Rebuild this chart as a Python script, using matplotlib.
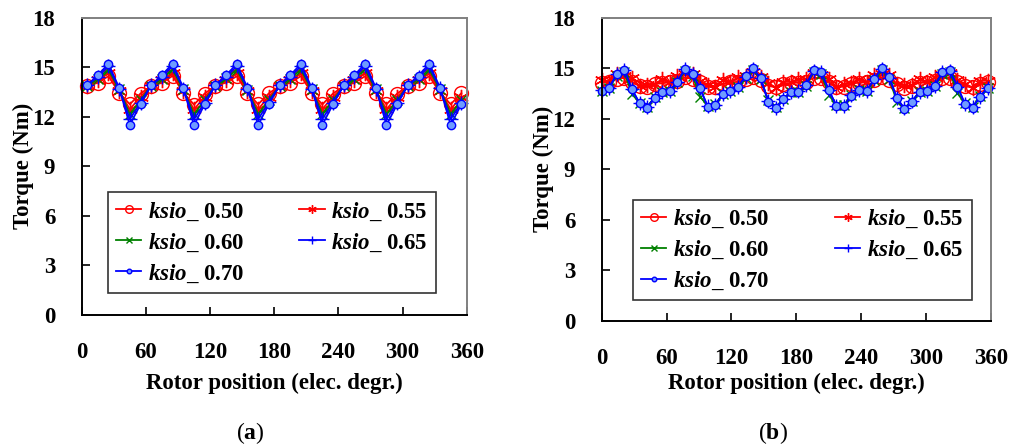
import numpy as np
import matplotlib
matplotlib.use("Agg")
import matplotlib.pyplot as plt

plt.rcParams['font.family'] = ['Liberation Serif', 'DejaVu Serif']
plt.rcParams['font.weight'] = 'bold'
plt.rcParams['mathtext.fontset'] = 'custom'
plt.rcParams['mathtext.it'] = 'Liberation Serif:italic:bold'
plt.rcParams['mathtext.bf'] = 'Liberation Serif:bold'
plt.rcParams['mathtext.rm'] = 'Liberation Serif:bold'

labels = ['0.50', '0.55', '0.60', '0.65', '0.70']

# panel (a): every 10 elec. degrees
x_a = np.arange(5, 360, 10)
a_050 = [13.85, 14.05, 14.45, 13.45, 12.75, 13.40,
         13.85, 14.05, 14.47, 13.45, 12.73, 13.40,
         13.86, 14.06, 14.45, 13.44, 12.75, 13.41,
         13.85, 14.05, 14.46, 13.45, 12.74, 13.40,
         13.84, 14.05, 14.45, 13.46, 12.75, 13.40,
         13.85, 14.06, 14.45, 13.45, 12.75, 13.42]
a_055 = [13.85, 14.20, 14.65, 13.55, 12.45, 13.20,
         13.86, 14.20, 14.66, 13.55, 12.44, 13.20,
         13.85, 14.21, 14.65, 13.54, 12.45, 13.21,
         13.85, 14.20, 14.65, 13.55, 12.46, 13.20,
         13.84, 14.20, 14.66, 13.55, 12.45, 13.20,
         13.85, 14.19, 14.65, 13.56, 12.45, 13.20]
a_060 = [13.85, 14.30, 14.85, 13.65, 12.15, 13.00,
         13.86, 14.30, 14.86, 13.65, 12.14, 13.00,
         13.85, 14.31, 14.85, 13.64, 12.15, 13.01,
         13.85, 14.30, 14.85, 13.65, 12.16, 13.00,
         13.84, 14.30, 14.86, 13.65, 12.15, 13.00,
         13.85, 14.29, 14.85, 13.66, 12.15, 13.00]
a_065 = [13.90, 14.40, 15.05, 13.70, 11.85, 12.85,
         13.90, 14.41, 15.06, 13.70, 11.84, 12.85,
         13.91, 14.40, 15.05, 13.69, 11.85, 12.86,
         13.90, 14.40, 15.05, 13.70, 11.86, 12.85,
         13.89, 14.40, 15.06, 13.70, 11.85, 12.85,
         13.90, 14.39, 15.05, 13.71, 11.85, 12.85]
a_070 = [13.90, 14.50, 15.20, 13.75, 11.50, 12.75,
         13.90, 14.51, 15.21, 13.75, 11.49, 12.75,
         13.91, 14.50, 15.20, 13.74, 11.50, 12.76,
         13.90, 14.50, 15.20, 13.75, 11.51, 12.75,
         13.89, 14.50, 15.21, 13.75, 11.50, 12.75,
         13.90, 14.49, 15.20, 13.76, 11.50, 12.75]

# panel (b): every 7 elec. degrees
x_b = np.arange(0, 358, 7)
b_050 = [14.12, 14.20, 14.36, 14.43, 14.18, 13.93, 13.86, 14.05, 14.10, 14.15,
         14.25, 14.44, 14.36, 14.19, 13.88, 13.90, 14.06, 14.15, 14.18, 14.33,
         14.45, 14.30, 13.95, 13.85, 14.03, 14.10, 14.14, 14.20, 14.42, 14.39,
         14.17, 13.89, 13.89, 14.08, 14.13, 14.15, 14.29, 14.45, 14.31, 14.04,
         13.84, 13.95, 14.14, 14.11, 14.23, 14.39, 14.42, 14.18, 13.91, 13.86,
         14.07, 14.16]
b_055 = [14.30, 14.18, 14.64, 14.54, 14.38, 13.94, 14.00, 14.05, 14.33, 14.19,
         14.54, 14.66, 14.64, 14.25, 14.02, 13.90, 14.27, 14.19, 14.44, 14.50,
         14.77, 14.46, 14.12, 13.83, 14.17, 14.18, 14.33, 14.32, 14.72, 14.59,
         14.37, 13.88, 14.03, 14.10, 14.37, 14.19, 14.59, 14.67, 14.57, 14.04,
         13.97, 13.97, 14.33, 14.19, 14.45, 14.59, 14.72, 14.29, 14.06, 13.84,
         14.23, 14.26]
b_060 = [13.65, 13.82, 14.55, 14.75, 13.45, 12.95, 12.71, 13.26, 13.60, 13.63,
         14.15, 14.85, 14.55, 13.30, 12.77, 12.86, 13.45, 13.63, 13.87, 14.42,
         14.88, 14.33, 13.10, 12.68, 13.17, 13.60, 13.60, 13.96, 14.76, 14.66,
         13.40, 12.80, 12.80, 13.38, 13.69, 13.63, 14.28, 14.88, 14.37, 13.00,
         12.64, 13.04, 13.60, 13.63, 13.91, 14.66, 14.76, 13.50, 12.90, 12.71,
         13.32, 13.82]
b_065 = [13.67, 13.84, 14.62, 14.88, 13.74, 12.92, 12.67, 13.25, 13.60, 13.64,
         14.19, 14.93, 14.62, 13.80, 12.73, 12.83, 13.45, 13.64, 13.90, 14.48,
         14.97, 14.39, 13.02, 12.64, 13.16, 13.60, 13.61, 14.00, 14.83, 14.74,
         13.70, 12.77, 12.77, 13.37, 13.70, 13.64, 14.33, 14.97, 14.43, 13.22,
         12.60, 13.02, 13.60, 13.64, 13.94, 14.74, 14.83, 13.90, 12.87, 12.67,
         13.31, 13.84]
b_070 = [13.66, 13.84, 14.64, 14.90, 13.74, 12.90, 12.64, 13.24, 13.60, 13.64,
         14.20, 14.96, 14.64, 13.80, 12.70, 12.80, 13.44, 13.64, 13.90, 14.50,
         15.00, 14.40, 13.00, 12.60, 13.14, 13.60, 13.60, 14.00, 14.86, 14.76,
         13.70, 12.74, 12.74, 13.36, 13.70, 13.64, 14.34, 15.00, 14.44, 13.20,
         12.56, 13.00, 13.60, 13.64, 13.94, 14.76, 14.86, 13.90, 12.84, 12.64,
         13.30, 13.84]

styles = [
    dict(color='#ff0000', marker='o', markersize=10, markerfacecolor='none', markeredgewidth=1.0),
    dict(color='#ff0000', marker=(6, 2, 0), markersize=11, markeredgewidth=1.0),
    dict(color='#008000', marker='x', markersize=7, markeredgewidth=1.0),
    dict(color='#0000ff', marker='+', markersize=10, markeredgewidth=1.0),
    dict(color='#0000ff', marker='o', markersize=6, markerfacecolor='#6f9cff', markeredgewidth=1.0),
]

# legend is filled row by row in the original (matplotlib fills by column)
legend_order = [0, 2, 4, 1, 3]


def style_axes(ax):
    ax.set_xlim(0, 360)
    ax.set_ylim(0, 18)
    ax.set_xticks(range(0, 361, 60))
    ax.set_yticks(range(0, 19, 3))
    ax.tick_params(axis='both', direction='in', length=6, width=1.2, labelsize=16.5)
    ax.tick_params(axis='x', pad=19.5)
    ax.tick_params(axis='y', pad=19)
    for s in ['left', 'bottom']:
        ax.spines[s].set_color('black')
        ax.spines[s].set_linewidth(1.4)
    for s in ['top', 'right']:
        ax.spines[s].set_color('#808080')
        ax.spines[s].set_linewidth(1.4)
    ax.set_xlabel('Rotor position (elec. degr.)', fontsize=16.5, fontweight='bold')
    ax.set_ylabel('Torque (Nm)', fontsize=16.5, fontweight='bold')


fig = plt.figure(figsize=(10.21, 4.48), dpi=100)
ax1 = fig.add_axes([0.0800, 0.2969, 0.3771, 0.6640])
ax2 = fig.add_axes([0.5893, 0.2842, 0.3813, 0.6767])

for ax, x, series, box in [
        (ax1, x_a, [a_050, a_055, a_060, a_065, a_070], (0.069, 0.075, 0.851, 0.336)),
        (ax2, x_b, [b_050, b_055, b_060, b_065, b_070], (0.081, 0.068, 0.869, 0.314))]:
    lines = []
    for y, lab, st in zip(series, labels, styles):
        ln, = ax.plot(x, y, linewidth=1.3, clip_on=False,
                      label=r'$\mathit{ksio}$_ ' + lab, **st)
        lines.append(ln)
    style_axes(ax)
    handles = [lines[i] for i in legend_order]
    leg = ax.legend(handles=handles, loc='lower left', bbox_to_anchor=box, mode='expand', ncol=2,
                    fontsize=16.5, frameon=True, fancybox=False, markerscale=0.55,
                    handlelength=1.1, handletextpad=0.3, labelspacing=0.38,
                    borderpad=0.35, borderaxespad=0)
    leg.get_frame().set_edgecolor('black')
    leg.get_frame().set_linewidth(1.2)

ax1.xaxis.set_label_coords(0.5, -0.195)
ax2.xaxis.set_label_coords(0.5, -0.172)
ax1.yaxis.set_label_coords(-0.124, 0.5)
ax2.yaxis.set_label_coords(-0.1225, 0.5)

fig.text(250 / 1021, 1 - 433 / 448, r'($\mathbf{a}$)', ha='center', va='center',
         fontsize=17, fontweight='normal')
fig.text(773 / 1021, 1 - 433 / 448, r'($\mathbf{b}$)', ha='center', va='center',
         fontsize=17, fontweight='normal')

fig.savefig('out.png', dpi=100)
